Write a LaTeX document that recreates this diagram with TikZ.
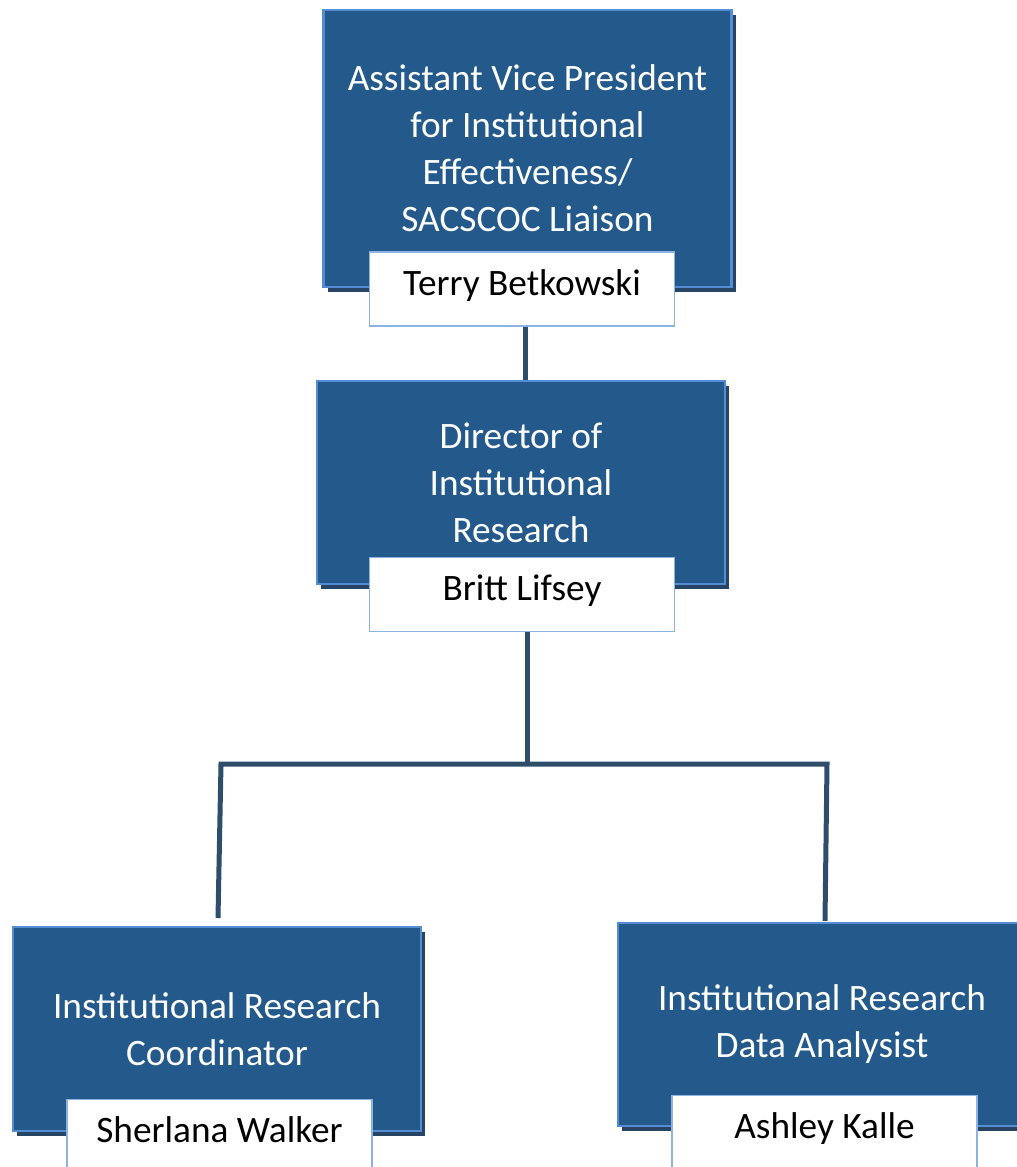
\documentclass[tikz,border=0pt]{standalone}
\usepackage{fontspec}
\setmainfont{Carlito}
\usetikzlibrary{shadows}

\definecolor{boxblue}{RGB}{36,89,140}
\definecolor{boxedge}{RGB}{84,141,212}
\definecolor{boxshadow}{RGB}{40,68,100}
\definecolor{nameedge}{RGB}{141,179,226}
\definecolor{linkcol}{RGB}{46,77,107}

\tikzset{
  rolebox/.style={draw=boxedge, line width=2.5pt, fill=boxblue, text=white,
    align=center, minimum width=408pt, inner sep=0pt,
    font=\fontsize{37.3}{47}\selectfont,
    drop shadow={shadow xshift=4pt, shadow yshift=-5pt, fill=boxshadow, opacity=1}},
  namebox/.style={draw=nameedge, line width=1.2pt, fill=white,
    minimum width=305pt, minimum height=74pt, inner sep=0pt,
    text height=26pt, text depth=14pt, font=\fontsize{37.3}{47}\selectfont},
  link/.style={draw=linkcol, line width=5pt}
}

\begin{document}
\begin{tikzpicture}[x=1pt,y=-1pt]
        \useasboundingbox (0,0) rectangle (1017,1167);

        % Assistant vice president
        \node[rolebox, minimum height=277pt] (avp) at (527.5,148.5)
          {Assistant Vice President\\for Institutional\\Effectiveness/\\SACSCOC Liaison};
        \node[namebox] (avpname) at (522,289) {Terry Betkowski};

        % Director
        \node[rolebox, minimum height=203pt] (dir) at (521,482.5)
          {Director of\\Institutional\\Research};
        \node[namebox] (dirname) at (522,594.5) {Britt Lifsey};

        % Coordinator
        \node[rolebox, minimum height=204pt] (coord) at (217,1029)
          {Institutional Research\\Coordinator};
        \node[namebox] (coordname) at (219.5,1136.5) {Sherlana Walker};

        % Data analyst
        \node[rolebox, minimum height=203pt] (analyst) at (822,1024.5)
          {Institutional Research\\Data Analysist};
        \node[namebox] (analystname) at (824.5,1132.5) {Ashley Kalle};

        % Links
        \coordinate (fork) at (527,764);
        \coordinate (forkL) at (221,764);
        \coordinate (forkR) at (827,764);
        \coordinate (legL) at (218,918);
        \coordinate (legR) at (825,921);

        \draw[link] (avpname.south -| 525,0) -- (dir.north -| 525,0);
        \draw[link] (dirname.south -| fork) -- (fork);
        \draw[link] (legL) -- (forkL) -- (forkR) -- (legR);
    \end{tikzpicture}
\end{document}
